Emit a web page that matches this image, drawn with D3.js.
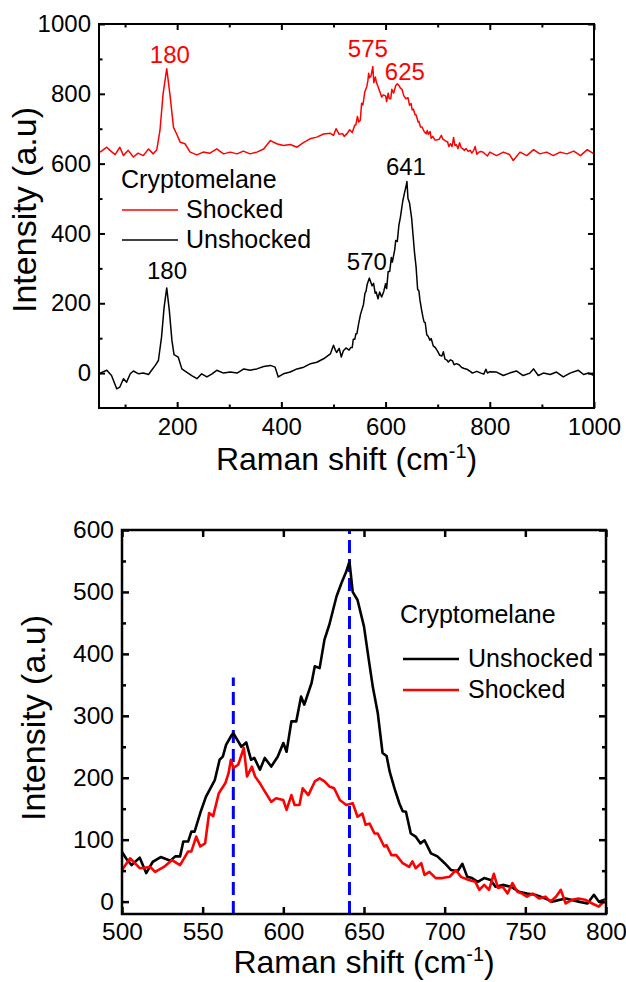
<!DOCTYPE html>
<html><head><meta charset="utf-8">
<script src="https://cdn.jsdelivr.net/npm/d3@7/dist/d3.min.js"></script>
<style>
html,body{margin:0;padding:0;background:#fff;}
svg{display:block;font-family:"Liberation Sans",Arial,Helvetica,sans-serif;}
</style></head><body>
<svg id="chart" width="626" height="982"></svg>
<script>
// ---------------- DATA ----------------
// Tick labels
const topXTicks = [200, 400, 600, 800, 1000];
const topXMinor = [100, 300, 500, 700, 900];
const topYTicks = [0, 200, 400, 600, 800, 1000];
const topYMinor = [100, 300, 500, 700, 900];
const botXTicks = [500, 550, 600, 650, 700, 750, 800];
const botYTicks = [0, 100, 200, 300, 400, 500, 600];
const botYMinor = [50, 150, 250, 350, 450, 550];

// Vertical offset of the shocked spectrum in the upper panel
const shockedOffset = 630;

// Unshocked spectrum, low range (cm-1 / a.u.)
const unshockedWnLow = [52, 65, 74, 84, 90, 97, 103, 110, 116, 126, 135, 145, 151, 158, 164, 170, 175, 180, 185, 190, 194, 202, 209, 218, 228, 238, 247, 257, 267, 276, 289, 302, 315, 328, 340, 353, 366, 379, 388, 394, 404, 417, 430, 443, 456, 468, 481, 494];
const unshockedLow = [0, 8, -7, -45, -40, -16, -26, -2, 6, -2, 0, -4, 8, 22, 36, 103, 189, 244, 179, 93, 53, 46, 12, 3, -7, -16, -2, -11, -2, 8, 0, 3, 0, 12, 8, 12, 19, 22, 17, -11, -2, 3, 12, 17, 27, 31, 41, 55];
// Unshocked spectrum, high range
const unshockedWnHigh = [813, 826, 838, 851, 864, 877, 884, 893, 903, 916, 928, 941, 954, 970, 980, 990, 1000];
const unshockedHigh = [3, -7, 0, 6, -7, 0, 12, -7, 0, -4, 3, -11, 0, 8, -4, 0, -7];

// Shocked spectrum, low range
const shockedWnLow = [52, 65, 71, 81, 90, 97, 106, 116, 125, 135, 145, 154, 161, 167, 173, 180, 186, 193, 199, 206, 215, 225, 238, 250, 263, 276, 289, 302, 315, 327, 340, 353, 366, 379, 391, 404, 417, 430, 443, 455, 468, 481, 494];
const shockedLow = [3, 17, 8, -4, 17, -7, 8, -11, 0, -7, 12, -2, 10, 65, 170, 242, 170, 74, 55, 31, 27, 3, -5, 3, 0, 12, -2, 3, -2, 6, -2, 3, 12, 36, 27, 22, 25, 17, 31, 41, 46, 55, 57];
// Shocked spectrum, high range
const shockedWnHigh = [813, 826, 838, 845, 858, 871, 884, 896, 909, 922, 935, 948, 961, 974, 987, 1000];
const shockedHigh = [-7, 3, -4, -21, 3, -7, 10, -2, 3, -7, 3, -2, 6, -7, 10, -2];

// Detailed 500-800 cm-1 region
const zoomWnUnshocked = [500, 503, 506, 511, 515, 519, 524, 530, 533, 536, 538, 541, 543, 545, 548.5, 552, 557.5, 560.5, 562.5, 564.5, 568, 569, 574, 577, 580, 582, 585.5, 588.5, 592.5, 596.5, 600, 602, 605, 608, 611, 613, 617.5, 619.5, 622.5, 625.5, 628.5, 633, 636, 639, 641, 643, 646, 650, 653, 655.5, 658.5, 661.5, 664, 666, 669, 672, 674, 676, 679, 682, 685, 687.5, 691.5, 695.5, 700, 704, 708, 711, 714, 717, 720.5, 724.5, 728.5, 731.5, 736, 741, 746, 751, 756, 762.5, 766.5, 775, 783, 788.5, 792.5, 795.5, 800];
const zoomUnshocked = [80, 68, 59, 71, 46, 64, 72, 66, 73, 73, 97, 97, 113, 113, 143, 169, 196, 229, 234, 253, 269, 272, 250, 257, 229, 232, 213, 232, 218, 234, 256, 242, 291, 291, 331, 318, 353, 380, 377, 423, 447, 493, 514, 533, 549, 500, 487, 444, 390, 346, 305, 240, 235, 209, 182, 158, 146, 145, 110, 105, 94, 99, 78, 73, 62, 51, 49, 61, 40, 38, 32, 38, 35, 24, 27, 24, 16, 13, 11, 5, 0, 5, 0, -3, 11, 0, 4];
const zoomWnShocked = [500, 505, 511, 517.5, 520.5, 526, 531, 536, 541, 543, 546, 548.5, 551.5, 554, 556.5, 560, 564, 566, 567.5, 569, 572, 575.5, 577.5, 580.5, 582.5, 585.5, 588.5, 592.5, 595.5, 600, 602, 605, 607, 610, 612, 615.5, 619.5, 622.5, 625.5, 628.5, 631.5, 635, 639, 643, 646, 649, 651, 653.5, 656.5, 658.5, 662.5, 664, 667, 670, 674, 678, 680, 682, 685.5, 687.5, 690.5, 694.5, 698.5, 703, 707, 710, 715, 719, 721.5, 724.5, 727.5, 730.5, 733, 736, 739, 742, 745, 748, 751, 754.5, 758.5, 762.5, 765.5, 769, 772, 775, 779, 783, 787, 791.5, 795.5, 800];
const zoomShocked = [51, 70, 54, 56, 48, 56, 67, 59, 81, 81, 105, 89, 94, 143, 138, 175, 191, 207, 229, 216, 221, 248, 202, 218, 202, 191, 178, 161, 167, 164, 148, 172, 156, 156, 183, 172, 194, 199, 194, 186, 183, 164, 156, 159, 137, 142, 124, 126, 110, 110, 89, 91, 75, 75, 62, 56, 65, 54, 62, 43, 48, 38, 38, 40, 51, 40, 35, 32, 19, 27, 19, 45, 22, 24, 13, 30, 16, 13, 8, 13, 5, 8, 0, 8, 19, -3, 3, 5, 3, -3, -8, 3];

const markerLines = [569, 641];
const seriesNames = ["Shocked", "Unshocked"];
const legendTitle = "Cryptomelane";

// ---------------- BUILD ----------------
const zip = (xs, ys, off = 0) => xs.map((w, i) => ({ x: w, y: ys[i] + off }));
const topUnshocked = zip(unshockedWnLow, unshockedLow)
  .concat(zip(zoomWnUnshocked, zoomUnshocked), zip(unshockedWnHigh, unshockedHigh));
const topShocked = zip(shockedWnLow, shockedLow, shockedOffset)
  .concat(zip(zoomWnShocked, zoomShocked, shockedOffset), zip(shockedWnHigh, shockedHigh, shockedOffset));
const botUnshocked = zip(zoomWnUnshocked, zoomUnshocked);
const botShocked = zip(zoomWnShocked, zoomShocked);

const svg = d3.select("#chart");
const FONT = '"Liberation Sans",Arial,Helvetica,sans-serif';

function panel(cfg) {
  const g = svg.append("g");
  const x = d3.scaleLinear().domain(cfg.xDomain).range([cfg.left, cfg.right]);
  const y = d3.scaleLinear().domain(cfg.yDomain).range([cfg.bottom, cfg.top]);

  const clipId = cfg.id + "-clip";
  svg.append("clipPath").attr("id", clipId).append("rect")
    .attr("x", cfg.left).attr("y", cfg.top)
    .attr("width", cfg.right - cfg.left).attr("height", cfg.bottom - cfg.top);

  const plot = g.append("g").attr("clip-path", `url(#${clipId})`);
  const line = d3.line().x(d => x(d.x)).y(d => y(d.y));

  (cfg.markers || []).forEach(m => {
    plot.append("line")
      .attr("x1", x(m.x)).attr("x2", x(m.x))
      .attr("y1", y(m.y0)).attr("y2", y(m.y1))
      .attr("stroke", "#0000ff").attr("stroke-width", 3)
      .attr("stroke-dasharray", "13,6");
  });

  cfg.series.forEach(s => {
    plot.append("path").datum(s.data)
      .attr("fill", "none").attr("stroke", s.color)
      .attr("stroke-width", cfg.lineW).attr("stroke-linejoin", "round")
      .attr("d", line);
  });

  function styleAxis(sel, fs) {
    sel.attr("font-family", FONT).attr("font-size", fs);
    sel.select(".domain").remove();
    sel.selectAll(".tick line").attr("stroke", "#000").attr("stroke-width", cfg.tickW);
    sel.selectAll(".tick text").attr("fill", "#000");
  }
  const fmt = d3.format("d");
  styleAxis(g.append("g").attr("transform", `translate(0,${cfg.bottom})`)
    .call(d3.axisBottom(x).tickValues(cfg.xTicks).tickSize(-cfg.majorLen).tickPadding(cfg.xPad).tickFormat(fmt)), cfg.tickFont);
  styleAxis(g.append("g").attr("transform", `translate(0,${cfg.top})`)
    .call(d3.axisTop(x).tickValues(cfg.xTicks).tickSize(-cfg.majorLen).tickFormat("")), cfg.tickFont);
  if (cfg.xMinor) {
    styleAxis(g.append("g").attr("transform", `translate(0,${cfg.bottom})`)
      .call(d3.axisBottom(x).tickValues(cfg.xMinor).tickSize(-cfg.minorLen).tickFormat("")), cfg.tickFont);
    styleAxis(g.append("g").attr("transform", `translate(0,${cfg.top})`)
      .call(d3.axisTop(x).tickValues(cfg.xMinor).tickSize(-cfg.minorLen).tickFormat("")), cfg.tickFont);
  }
  styleAxis(g.append("g").attr("transform", `translate(${cfg.left},0)`)
    .call(d3.axisLeft(y).tickValues(cfg.yTicks).tickSize(-cfg.majorLen).tickPadding(cfg.yPad).tickFormat(fmt)), cfg.tickFont);
  styleAxis(g.append("g").attr("transform", `translate(${cfg.right},0)`)
    .call(d3.axisRight(y).tickValues(cfg.yTicks).tickSize(-cfg.majorLen).tickFormat("")), cfg.tickFont);
  styleAxis(g.append("g").attr("transform", `translate(${cfg.left},0)`)
    .call(d3.axisLeft(y).tickValues(cfg.yMinor).tickSize(-cfg.minorLen).tickFormat("")), cfg.tickFont);
  styleAxis(g.append("g").attr("transform", `translate(${cfg.right},0)`)
    .call(d3.axisRight(y).tickValues(cfg.yMinor).tickSize(-cfg.minorLen).tickFormat("")), cfg.tickFont);

  g.append("rect")
    .attr("x", cfg.left).attr("y", cfg.top)
    .attr("width", cfg.right - cfg.left).attr("height", cfg.bottom - cfg.top)
    .attr("fill", "none").attr("stroke", "#000").attr("stroke-width", cfg.frameW);

  const xt = g.append("text")
    .attr("x", (cfg.left + cfg.right) / 2).attr("y", cfg.xTitleY)
    .attr("text-anchor", "middle").attr("font-size", cfg.xTitleFont).attr("fill", "#000");
  xt.append("tspan").text("Raman shift (cm");
  xt.append("tspan").attr("dy", -cfg.xTitleFont * 0.38).attr("font-size", cfg.xTitleFont * 0.62).text("-1");
  xt.append("tspan").attr("dy", cfg.xTitleFont * 0.38).text(")");

  g.append("text")
    .attr("transform", `translate(${cfg.yTitleX},${cfg.yTitleCY}) rotate(-90)`)
    .attr("text-anchor", "middle").attr("font-size", cfg.yTitleFont).attr("fill", "#000")
    .text("Intensity (a.u)");

  (cfg.labels || []).forEach(l => {
    g.append("text").attr("x", x(l.x)).attr("y", y(l.y))
      .attr("text-anchor", "middle").attr("font-size", cfg.labelFont)
      .attr("fill", l.color).text(l.text);
  });

  const L = cfg.legend;
  g.append("text").attr("x", L.x).attr("y", L.titleY)
    .attr("font-size", cfg.legendFont).attr("fill", "#000").text(legendTitle);
  L.items.forEach(it => {
    g.append("line").attr("x1", L.x + L.lineDx).attr("x2", L.x + L.lineDx + L.lineLen)
      .attr("y1", it.y - L.lineRaise).attr("y2", it.y - L.lineRaise)
      .attr("stroke", it.color).attr("stroke-width", cfg.lineW);
    g.append("text").attr("x", L.x + L.textDx).attr("y", it.y)
      .attr("font-size", cfg.legendFont).attr("fill", "#000").text(it.name);
  });
}

// Upper panel
panel({
  id: "top",
  xDomain: [50, 1000], yDomain: [-100, 1000],
  left: 99, right: 594, top: 24, bottom: 408,
  xTicks: topXTicks, xMinor: topXMinor, yTicks: topYTicks, yMinor: topYMinor,
  majorLen: 6, minorLen: 3.5, tickW: 2, frameW: 2, lineW: 1.5,
  tickFont: 24, xPad: 10, yPad: 8,
  xTitleFont: 32, yTitleFont: 34, xTitleY: 470, yTitleX: 36, yTitleCY: 210,
  labelFont: 24, legendFont: 25,
  series: [
    { data: topShocked, color: "#ff0000" },
    { data: topUnshocked, color: "#000000" }
  ],
  labels: [
    { x: 186, y: 888, text: "180", color: "#ff0000" },
    { x: 566, y: 905, text: "575", color: "#ff0000" },
    { x: 637, y: 840, text: "625", color: "#ff0000" },
    { x: 639, y: 567, text: "641", color: "#000000" },
    { x: 564, y: 295, text: "570", color: "#000000" },
    { x: 180.5, y: 269, text: "180", color: "#000000" }
  ],
  legend: {
    x: 121, titleY: 188, lineDx: 1, lineLen: 56, textDx: 65, lineRaise: 8,
    items: [
      { name: seriesNames[0], color: "#ff0000", y: 218 },
      { name: seriesNames[1], color: "#000000", y: 248 }
    ]
  }
});

// Lower panel
panel({
  id: "bot",
  xDomain: [500, 800], yDomain: [-20, 600],
  left: 122, right: 606, top: 530, bottom: 914,
  xTicks: botXTicks, xMinor: null, yTicks: botYTicks, yMinor: botYMinor,
  majorLen: 7, minorLen: 4, tickW: 2.5, frameW: 2.5, lineW: 2.6,
  tickFont: 24.5, xPad: 9, yPad: 8,
  xTitleFont: 32, xTitleY: 973, yTitleFont: 34, yTitleX: 45, yTitleCY: 718,
  labelFont: 24, legendFont: 25,
  markers: [
    { x: markerLines[0], y0: -20, y1: 362 },
    { x: markerLines[1], y0: -20, y1: 600 }
  ],
  series: [
    { data: botUnshocked, color: "#000000" },
    { data: botShocked, color: "#ff0000" }
  ],
  labels: [],
  legend: {
    x: 400, titleY: 623, lineDx: 3, lineLen: 56, textDx: 68, lineRaise: 8,
    items: [
      { name: seriesNames[1], color: "#000000", y: 667 },
      { name: seriesNames[0], color: "#ff0000", y: 698 }
    ]
  }
});
</script></body></html>
